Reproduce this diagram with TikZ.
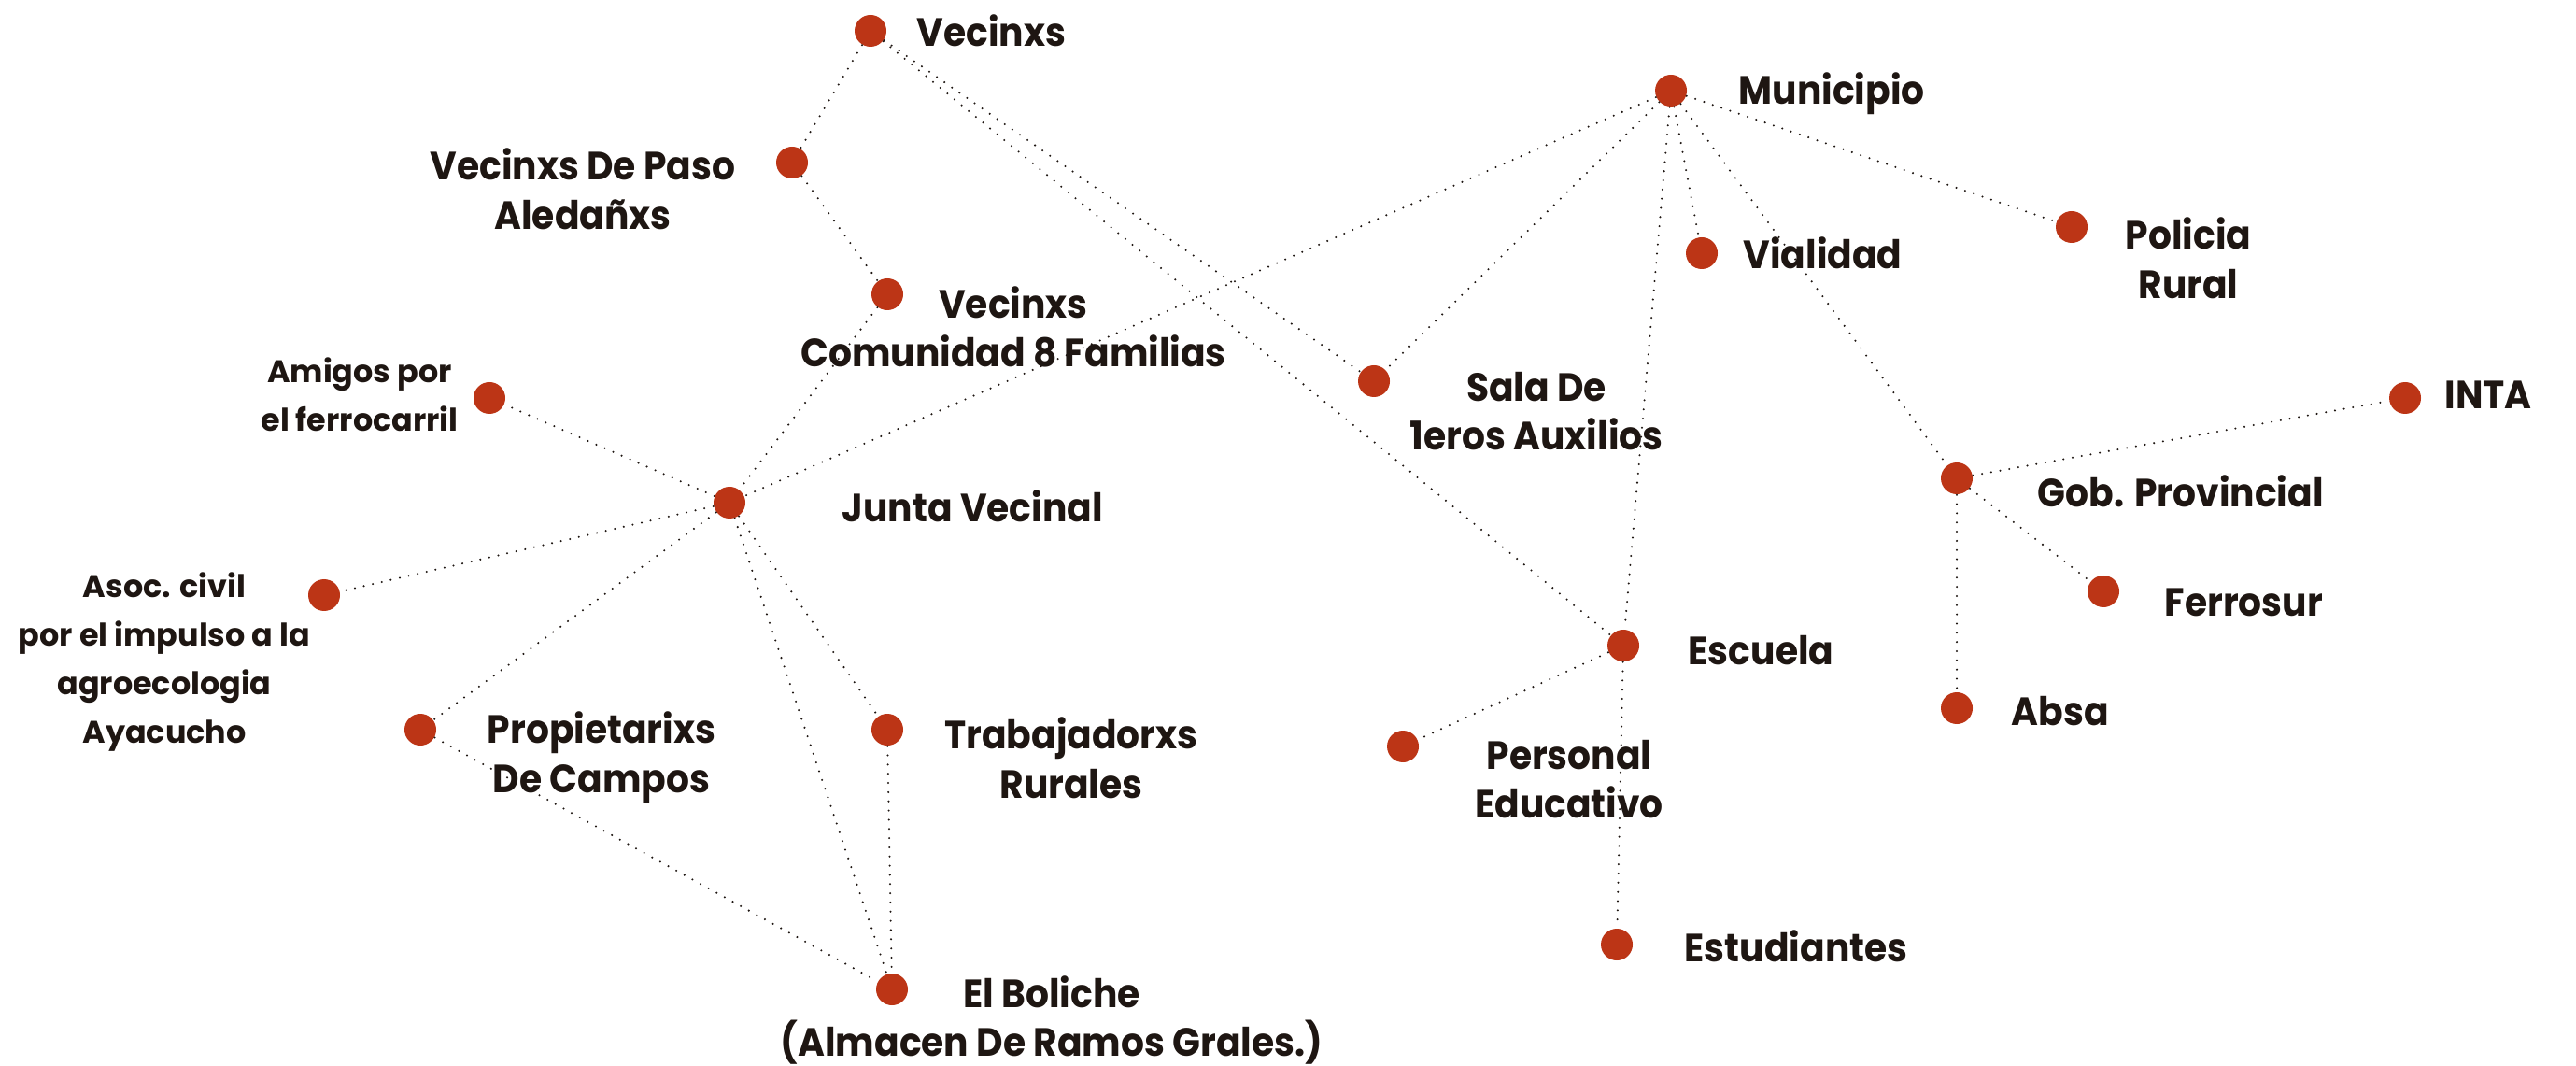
\documentclass[tikz,border=0pt]{standalone}
\usepackage{fontspec}
\setmainfont{Poppins}
\newfontfamily\tagfont{Poppins}[FakeStretch=0.93]
\definecolor{dotred}{HTML}{BC3516}
\definecolor{inkdark}{HTML}{1E1612}
\tikzset{
  actor/.style={circle, fill=dotred, inner sep=0pt, minimum size=3.4mm},
  tag/.style={text=inkdark, font=\tagfont\fontsize{12}{15}\selectfont\bfseries, align=center, inner sep=0pt},
  tagsmall/.style={text=inkdark, font=\fontsize{9.5}{14.8}\selectfont\bfseries, align=center, inner sep=0pt},
  tie/.style={draw=inkdark, line width=0.65pt, line cap=round, dash pattern=on 0pt off 2.8pt}
}
\begin{document}
\begin{tikzpicture}
    \useasboundingbox (0,0) rectangle (27.58,11.40);

    % Dots for the actors on the left
    \node[actor] (vecinxs) at (9.32,11.07) {};
    \node[actor] (paso) at (8.48,9.66) {};
    \node[actor] (comunidad) at (9.50,8.25) {};
    \node[actor] (amigos) at (5.24,7.14) {};
    \node[actor] (junta) at (7.81,6.02) {};
    \node[actor] (asoc) at (3.47,5.03) {};
    \node[actor] (propietarixs) at (4.50,3.59) {};
    \node[actor] (trabajadorxs) at (9.50,3.59) {};
    \node[actor] (boliche) at (9.55,0.81) {};

    % Dots for the actors on the right
    \node[actor] (municipio) at (17.89,10.43) {};
    \node[actor] (vialidad) at (18.22,8.69) {};
    \node[actor] (policia) at (22.18,8.97) {};
    \node[actor] (sala) at (14.71,7.32) {};
    \node[actor] (inta) at (25.75,7.14) {};
    \node[actor] (gob) at (20.95,6.28) {};
    \node[actor] (ferrosur) at (22.52,5.07) {};
    \node[actor] (absa) at (20.95,3.82) {};
    \node[actor] (escuela) at (17.38,4.49) {};
    \node[actor] (personal) at (15.02,3.41) {};
    \node[actor] (estudiantes) at (17.31,1.29) {};

    % Labels
    \node[tag, anchor=west] (vecinxs-t) at (9.81,11.07) {Vecinxs};
    \node[tag] (paso-t) at (6.24,9.38) {Vecinxs De Paso\\Aledañxs};
    \node[tag] (comunidad-t) at (10.85,7.90) {Vecinxs\\Comunidad 8 Familias};
    \node[tagsmall] (amigos-t) at (3.85,7.18) {Amigos por\\el ferrocarril};
    \node[tag, anchor=west] (junta-t) at (9.01,5.98) {Junta Vecinal};
    \node[tagsmall] (asoc-t) at (1.76,4.31) {Asoc. civil\\por el impulso a la\\agroecologia\\Ayacucho};
    \node[tag] (propietarixs-t) at (6.44,3.29) {Propietarixs\\De Campos};
    \node[tag] (trabajadorxs-t) at (11.47,3.29) {Trabajadorxs\\Rurales};
    \node[tag] (boliche-t) at (11.26,0.48) {El Boliche\\(Almacen De Ramos Grales.)};
    \node[tag, anchor=west] (municipio-t) at (18.61,10.40) {Municipio};
    \node[tag, anchor=west] (vialidad-t) at (18.66,8.69) {Vialidad};
    \node[tag] (policia-t) at (23.43,8.64) {Policia\\Rural};
    \node[tag] (sala-t) at (16.45,7.00) {Sala De\\1eros Auxilios};
    \node[tag, anchor=west] (inta-t) at (26.17,7.17) {INTA};
    \node[tag, anchor=west] (gob-t) at (21.81,6.14) {Gob. Provincial};
    \node[tag, anchor=west] (ferrosur-t) at (23.17,4.95) {Ferrosur};
    \node[tag, anchor=west] (absa-t) at (21.53,3.79) {Absa};
    \node[tag, anchor=west] (escuela-t) at (18.07,4.44) {Escuela};
    \node[tag] (personal-t) at (16.80,3.06) {Personal\\Educativo};
    \node[tag, anchor=west] (estudiantes-t) at (18.03,1.27) {Estudiantes};

    % Dotted ties between actors
    \draw[tie] (vecinxs) -- (paso);
    \draw[tie] (paso) -- (comunidad);
    \draw[tie] (vecinxs) -- (sala);
    \draw[tie] (vecinxs) -- (escuela);
    \draw[tie] (comunidad) -- (junta);
    \draw[tie] (municipio) -- (junta);
    \draw[tie] (municipio) -- (sala);
    \draw[tie] (municipio) -- (vialidad);
    \draw[tie] (municipio) -- (policia);
    \draw[tie] (municipio) -- (escuela);
    \draw[tie] (municipio) -- (gob);
    \draw[tie] (gob) -- (inta);
    \draw[tie] (gob) -- (ferrosur);
    \draw[tie] (gob) -- (absa);
    \draw[tie] (escuela) -- (personal);
    \draw[tie] (escuela) -- (estudiantes);
    \draw[tie] (junta) -- (amigos);
    \draw[tie] (junta) -- (asoc);
    \draw[tie] (junta) -- (propietarixs);
    \draw[tie] (junta) -- (trabajadorxs);
    \draw[tie] (junta) -- (boliche);
    \draw[tie] (propietarixs) -- (boliche);
    \draw[tie] (trabajadorxs) -- (boliche);

\end{tikzpicture}
\end{document}
